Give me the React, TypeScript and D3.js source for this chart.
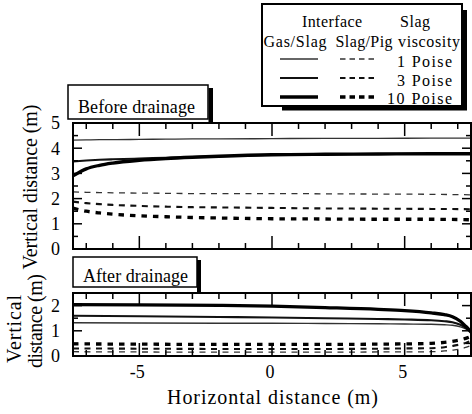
import React from 'react';
import * as d3 from 'd3';

const W = 472;
const H = 414;
const FONT = "'Liberation Serif', 'Times New Roman', Times, serif";

// ---------- Data: Before drainage ----------
const xBefore = [-7.5, -7, -6.5, -6, -5, -4, -3, -2, 0, 2, 4, 6, 7.5];
const beforeGas1 = [4.32, 4.33, 4.34, 4.34, 4.35, 4.36, 4.37, 4.37, 4.38, 4.39, 4.39, 4.4, 4.4];
const beforeGas3 = [3.47, 3.51, 3.54, 3.56, 3.59, 3.62, 3.65, 3.68, 3.74, 3.76, 3.77, 3.78, 3.78];
const beforeGas10 = [2.9, 3.18, 3.32, 3.41, 3.52, 3.59, 3.64, 3.68, 3.74, 3.76, 3.77, 3.78, 3.78];
const beforePig1 = [2.27, 2.25, 2.24, 2.23, 2.22, 2.21, 2.2, 2.2, 2.2, 2.19, 2.18, 2.17, 2.15];
const beforePig3 = [1.88, 1.82, 1.78, 1.75, 1.71, 1.68, 1.66, 1.65, 1.63, 1.61, 1.6, 1.59, 1.58];
const beforePig10 = [1.62, 1.5, 1.43, 1.38, 1.32, 1.28, 1.25, 1.23, 1.2, 1.19, 1.18, 1.18, 1.16];

// ---------- Data: After drainage ----------
const xAfter = [-7.5, -5, -2, 0, 2, 4, 5, 6, 6.5, 6.8, 7.1, 7.3, 7.5];
const afterGas1 = [1.32, 1.31, 1.3, 1.3, 1.29, 1.28, 1.27, 1.26, 1.24, 1.22, 1.16, 1.08, 0.98];
const afterGas3 = [1.6, 1.58, 1.55, 1.53, 1.5, 1.47, 1.45, 1.42, 1.38, 1.34, 1.24, 1.12, 0.97];
const afterGas10 = [2.04, 2.03, 2.01, 1.98, 1.92, 1.85, 1.8, 1.71, 1.64, 1.56, 1.38, 1.18, 0.95];
const afterPig1 = [0.17, 0.16, 0.15, 0.15, 0.15, 0.16, 0.16, 0.17, 0.2, 0.23, 0.28, 0.34, 0.42];
const afterPig3 = [0.3, 0.29, 0.28, 0.28, 0.28, 0.29, 0.3, 0.31, 0.35, 0.4, 0.46, 0.52, 0.6];
const afterPig10 = [0.48, 0.47, 0.46, 0.46, 0.46, 0.47, 0.48, 0.5, 0.54, 0.58, 0.64, 0.7, 0.78];

// ---------- Ticks ----------
const xTickValues = [-7, -6, -5, -4, -3, -2, -1, 0, 1, 2, 3, 4, 5, 6, 7];
const xMajorTicks = [-5, 0, 5];
const xTickLabels = ['-5', '0', '5'];
const yTopTicks = [0.5, 1, 1.5, 2, 2.5, 3, 3.5, 4, 4.5];
const yTopLabels = [0, 1, 2, 3, 4, 5];
const yBotTicks = [0.5, 1, 1.5, 2];
const yBotLabels = [0, 1, 2];

// ---------- Legend ----------
const viscosities = ['1 Poise', '3 Poise', '10 Poise'];

const styles = [
  { w: 1.3, color: '#333', dash: '6,5.5' },
  { w: 2.1, color: '#111', dash: '6,5.5' },
  { w: 3.3, color: '#000', dash: '5.5,6' },
];

const x = d3.scaleLinear().domain([-7.5, 7.5]).range([73, 471]);
const yTop = d3.scaleLinear().domain([0, 5]).range([249, 123]);
const yBot = d3.scaleLinear().domain([0, 2.5]).range([356, 293]);

const ts = { fontFamily: FONT };

function makePath(xs: number[], ys: number[], yScale: d3.ScaleLinear<number, number>) {
  const pts = xs.map((v, i) => [v, ys[i]] as [number, number]);
  return (
    d3
      .line<[number, number]>()
      .x((d) => x(d[0]))
      .y((d) => yScale(d[1]))
      .curve(d3.curveMonotoneX)(pts) || ''
  );
}

function Panel({
  yScale,
  yTicks,
  yLabels,
  series,
  xs,
  clipId,
}: {
  yScale: d3.ScaleLinear<number, number>;
  yTicks: number[];
  yLabels: number[];
  series: { ys: number[]; style: number; dashed: boolean }[];
  xs: number[];
  clipId: string;
}) {
  const [x0, x1] = x.range();
  const [yb, yt] = yScale.range();
  return (
    <g>
      <clipPath id={clipId}>
        <rect x={x0} y={yt} width={x1 - x0} height={yb - yt} />
      </clipPath>
      <g clipPath={`url(#${clipId})`}>
        {series.map((s, i) => {
          const st = styles[s.style];
          return (
            <path
              key={i}
              d={makePath(xs, s.ys, yScale)}
              fill="none"
              stroke={st.color}
              strokeWidth={st.w}
              strokeDasharray={s.dashed ? st.dash : undefined}
            />
          );
        })}
      </g>
      {xTickValues.map((v) => {
        const len = xMajorTicks.includes(v) ? 13 : 6;
        return (
          <g key={'xt' + v} stroke="#000" strokeWidth={1.5}>
            <line x1={x(v)} x2={x(v)} y1={yt} y2={yt + len} />
            <line x1={x(v)} x2={x(v)} y1={yb} y2={yb - len} />
          </g>
        );
      })}
      {yTicks.map((v) => {
        const len = Number.isInteger(v) ? 9 : 5;
        return (
          <g key={'yt' + v} stroke="#000" strokeWidth={1.5}>
            <line x1={x0} x2={x0 + len} y1={yScale(v)} y2={yScale(v)} />
            <line x1={x1} x2={x1 - len} y1={yScale(v)} y2={yScale(v)} />
          </g>
        );
      })}
      <rect x={x0} y={yt} width={x1 - x0} height={yb - yt} fill="none" stroke="#000" strokeWidth={2} />
      {yLabels.map((v) => (
        <text key={'yl' + v} x={60} y={yScale(v)} dy="0.35em" textAnchor="end" fontSize={18} style={ts}>
          {v}
        </text>
      ))}
    </g>
  );
}

export default function App() {
  const beforeSeries = [
    { ys: beforePig1, style: 0, dashed: true },
    { ys: beforePig3, style: 1, dashed: true },
    { ys: beforePig10, style: 2, dashed: true },
    { ys: beforeGas1, style: 0, dashed: false },
    { ys: beforeGas3, style: 1, dashed: false },
    { ys: beforeGas10, style: 2, dashed: false },
  ];
  const afterSeries = [
    { ys: afterPig1, style: 0, dashed: true },
    { ys: afterPig3, style: 1, dashed: true },
    { ys: afterPig10, style: 2, dashed: true },
    { ys: afterGas1, style: 0, dashed: false },
    { ys: afterGas3, style: 1, dashed: false },
    { ys: afterGas10, style: 2, dashed: false },
  ];
  const legendRows = [59, 78, 97];
  const legendBaselines = [66.5, 86, 104];
  const legendLens = [55, 55, 65];
  const adj = 'spacing';
  return (
    <svg width={W} height={H} style={{ position: 'absolute', left: 0, top: 0, background: '#fff' }}>
      <rect x={0} y={0} width={W} height={H} fill="#fff" />

      {/* Legend */}
      <rect x={463} y={10} width={4} height={100} fill="#000" />
      <rect x={282} y={106.5} width={185} height={4} fill="#000" />
      <rect x={262} y={4} width={200} height={102} fill="#fff" stroke="#000" strokeWidth={2} />
      <text x={332} y={26.5} textAnchor="middle" fontSize={16} style={ts} textLength={60} lengthAdjust={adj}>Interface</text>
      <text x={415} y={26.5} textAnchor="middle" fontSize={16} style={ts} textLength={30} lengthAdjust={adj}>Slag</text>
      <text x={295} y={46.5} textAnchor="middle" fontSize={16} style={ts} textLength={63} lengthAdjust={adj}>Gas/Slag</text>
      <text x={364} y={46.5} textAnchor="middle" fontSize={16} style={ts} textLength={57} lengthAdjust={adj}>Slag/Pig</text>
      <text x={429} y={46.5} textAnchor="middle" fontSize={16} style={ts} textLength={62} lengthAdjust={adj}>viscosity</text>
      {viscosities.map((v, i) => {
        const st = styles[i];
        return (
          <g key={v}>
            <line x1={280} x2={318} y1={legendRows[i]} y2={legendRows[i]} stroke={st.color} strokeWidth={st.w} />
            <line
              x1={340}
              x2={378}
              y1={legendRows[i]}
              y2={legendRows[i]}
              stroke={st.color}
              strokeWidth={st.w}
              strokeDasharray="5.5,4"
            />
            <text
              x={452}
              y={legendBaselines[i]}
              textAnchor="end"
              fontSize={16}
              style={ts}
              textLength={legendLens[i]}
              lengthAdjust={adj}
            >
              {v}
            </text>
          </g>
        );
      })}

      {/* Before drainage title box */}
      <rect x={208.5} y={88} width={4.5} height={35} fill="#000" />
      <rect x={68} y={85} width={140} height={34} fill="#fff" stroke="#000" strokeWidth={1.5} />
      <text x={78} y={113} fontSize={18} style={ts} textLength={117} lengthAdjust={adj}>Before drainage</text>

      {/* After drainage title box */}
      <rect x={197} y={260} width={4} height={33} fill="#000" />
      <rect x={73} y={257} width={124} height={30} fill="#fff" stroke="#000" strokeWidth={1.5} />
      <text x={83} y={282} fontSize={18} style={ts} textLength={105} lengthAdjust={adj}>After drainage</text>

      <Panel yScale={yTop} yTicks={yTopTicks} yLabels={yTopLabels} series={beforeSeries} xs={xBefore} clipId="clipTop" />
      <Panel yScale={yBot} yTicks={yBotTicks} yLabels={yBotLabels} series={afterSeries} xs={xAfter} clipId="clipBot" />

      {xMajorTicks.map((v, i) => (
        <text key={'xl' + v} x={x(v) - 2} y={378} textAnchor="middle" fontSize={18} style={ts}>
          {xTickLabels[i]}
        </text>
      ))}

      <text x={272.5} y={404} textAnchor="middle" fontSize={20} style={ts} textLength={211} lengthAdjust={adj}>
        Horizontal distance (m)
      </text>
      <text
        transform="translate(37,187) rotate(-90)"
        textAnchor="middle"
        fontSize={20}
        style={ts}
        textLength={165}
        lengthAdjust={adj}
      >
        Vertical distance (m)
      </text>
      <text
        transform="translate(21,329) rotate(-90)"
        textAnchor="middle"
        fontSize={20}
        style={ts}
        textLength={68}
        lengthAdjust={adj}
      >
        Vertical
      </text>
      <text
        transform="translate(42,321) rotate(-90)"
        textAnchor="middle"
        fontSize={20}
        style={ts}
        textLength={94}
        lengthAdjust={adj}
      >
        distance (m)
      </text>
    </svg>
  );
}
